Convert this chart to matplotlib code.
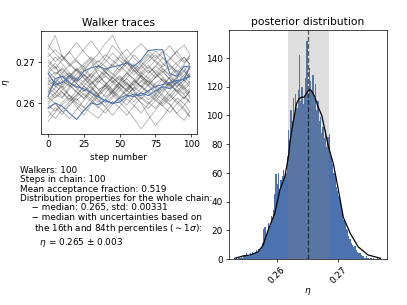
import numpy as np
import matplotlib
matplotlib.use("Agg")
from matplotlib import pyplot as plt

# ------------------------------------------------------------
# walker traces (eta in units of 1e-4), sampled every 5 steps
steps = [0, 5, 10, 15, 20, 25, 30, 35, 40, 45, 50,
         55, 60, 65, 70, 75, 80, 85, 90, 95, 99]

grey_traces = [
    [2672, 2690, 2655, 2640, 2661, 2684, 2702, 2670, 2648, 2633, 2650, 2668, 2691, 2675, 2660, 2644, 2629, 2651, 2670, 2688, 2664],
    [2610, 2625, 2641, 2618, 2600, 2589, 2612, 2630, 2645, 2627, 2606, 2620, 2638, 2655, 2641, 2622, 2609, 2631, 2650, 2637, 2618],
    [2731, 2765, 2712, 2690, 2705, 2680, 2662, 2688, 2710, 2741, 2722, 2698, 2675, 2691, 2716, 2700, 2683, 2666, 2690, 2712, 2695],
    [2648, 2631, 2615, 2640, 2662, 2651, 2670, 2692, 2677, 2655, 2638, 2620, 2603, 2625, 2644, 2662, 2679, 2658, 2640, 2622, 2635],
    [2585, 2600, 2578, 2593, 2615, 2632, 2618, 2601, 2624, 2645, 2660, 2641, 2619, 2600, 2571, 2545, 2566, 2590, 2612, 2598, 2580],
    [2700, 2683, 2707, 2725, 2701, 2688, 2665, 2650, 2672, 2697, 2715, 2731, 2710, 2692, 2673, 2690, 2711, 2695, 2676, 2660, 2684],
    [2625, 2650, 2667, 2644, 2628, 2612, 2633, 2655, 2641, 2622, 2640, 2661, 2680, 2664, 2645, 2627, 2641, 2662, 2681, 2666, 2649],
    [2660, 2642, 2626, 2609, 2631, 2650, 2636, 2620, 2600, 2617, 2638, 2652, 2631, 2612, 2597, 2613, 2634, 2650, 2627, 2610, 2630],
    [2555, 2578, 2596, 2612, 2590, 2571, 2595, 2618, 2637, 2620, 2602, 2584, 2562, 2537, 2560, 2583, 2604, 2622, 2605, 2588, 2568],
    [2690, 2712, 2695, 2672, 2655, 2678, 2701, 2720, 2745, 2765, 2731, 2706, 2688, 2667, 2650, 2671, 2693, 2708, 2726, 2702, 2715],
    [2640, 2622, 2648, 2667, 2685, 2670, 2652, 2634, 2615, 2630, 2652, 2673, 2659, 2640, 2622, 2606, 2625, 2646, 2663, 2681, 2658],
    [2598, 2615, 2632, 2650, 2637, 2620, 2605, 2588, 2610, 2628, 2612, 2595, 2617, 2636, 2655, 2640, 2620, 2604, 2622, 2640, 2625],
    [2705, 2688, 2670, 2652, 2671, 2690, 2709, 2693, 2676, 2659, 2677, 2695, 2718, 2700, 2684, 2705, 2722, 2740, 2716, 2698, 2710],
    [2632, 2650, 2635, 2617, 2596, 2580, 2601, 2622, 2644, 2662, 2646, 2630, 2650, 2668, 2652, 2635, 2615, 2598, 2575, 2594, 2612],
    [2668, 2651, 2674, 2693, 2678, 2660, 2643, 2662, 2684, 2669, 2691, 2675, 2656, 2640, 2661, 2680, 2664, 2646, 2627, 2649, 2670],
    [2615, 2598, 2580, 2562, 2585, 2606, 2627, 2610, 2592, 2613, 2630, 2648, 2627, 2609, 2631, 2617, 2598, 2619, 2640, 2656, 2640],
    [2742, 2720, 2703, 2726, 2748, 2725, 2706, 2683, 2700, 2722, 2704, 2687, 2668, 2689, 2708, 2727, 2710, 2692, 2675, 2694, 2716],
    [2650, 2668, 2686, 2665, 2647, 2629, 2648, 2667, 2650, 2632, 2615, 2636, 2655, 2675, 2693, 2672, 2654, 2636, 2655, 2633, 2647],
    [2580, 2562, 2585, 2603, 2620, 2641, 2625, 2607, 2590, 2570, 2592, 2611, 2594, 2576, 2598, 2620, 2639, 2618, 2600, 2583, 2566],
    [2678, 2660, 2644, 2665, 2683, 2662, 2640, 2622, 2643, 2664, 2682, 2700, 2680, 2661, 2643, 2664, 2685, 2668, 2650, 2668, 2685],
    [2645, 2652, 2638, 2661, 2649, 2670, 2655, 2633, 2641, 2628, 2647, 2659, 2642, 2666, 2651, 2637, 2658, 2645, 2662, 2640, 2653],
    [2690, 2671, 2683, 2665, 2652, 2668, 2647, 2661, 2679, 2694, 2680, 2702, 2686, 2670, 2688, 2673, 2655, 2641, 2660, 2677, 2662],
    [2603, 2621, 2612, 2635, 2648, 2629, 2640, 2618, 2605, 2627, 2646, 2633, 2654, 2640, 2626, 2648, 2661, 2643, 2630, 2612, 2628],
    [2722, 2701, 2716, 2694, 2710, 2731, 2752, 2728, 2705, 2690, 2712, 2698, 2681, 2700, 2720, 2703, 2688, 2706, 2727, 2741, 2720],
    [2566, 2589, 2572, 2598, 2611, 2590, 2576, 2563, 2585, 2604, 2589, 2570, 2593, 2615, 2602, 2587, 2609, 2596, 2574, 2558, 2579],
    [2655, 2640, 2661, 2674, 2658, 2642, 2660, 2681, 2667, 2650, 2664, 2645, 2633, 2652, 2671, 2690, 2676, 2659, 2641, 2656, 2673],
    [2630, 2612, 2627, 2604, 2620, 2641, 2628, 2649, 2666, 2651, 2634, 2617, 2639, 2625, 2608, 2623, 2645, 2663, 2647, 2631, 2614],
    [2680, 2697, 2676, 2660, 2681, 2666, 2688, 2703, 2689, 2672, 2655, 2674, 2696, 2683, 2701, 2718, 2697, 2681, 2699, 2712, 2694],
    [2620, 2637, 2654, 2643, 2626, 2611, 2630, 2616, 2635, 2652, 2667, 2649, 2630, 2644, 2627, 2610, 2593, 2612, 2634, 2620, 2603],
    [2660, 2676, 2664, 2648, 2637, 2655, 2672, 2657, 2675, 2663, 2646, 2629, 2647, 2666, 2681, 2662, 2675, 2690, 2670, 2654, 2667],
    [2595, 2580, 2602, 2620, 2606, 2624, 2610, 2591, 2575, 2597, 2614, 2631, 2618, 2601, 2587, 2606, 2593, 2577, 2598, 2615, 2601],
    [2713, 2730, 2714, 2697, 2679, 2696, 2712, 2699, 2718, 2704, 2689, 2709, 2728, 2745, 2727, 2710, 2726, 2711, 2694, 2677, 2697],
]

blue_traces = [
    [2673, 2645, 2650, 2668, 2655, 2678, 2686, 2690, 2683, 2688, 2692, 2698, 2690, 2705, 2728, 2730, 2730, 2672, 2665, 2690, 2688],
    [2588, 2600, 2592, 2575, 2560, 2582, 2600, 2596, 2608, 2598, 2612, 2620, 2615, 2625, 2618, 2630, 2640, 2635, 2650, 2660, 2665],
    [2616, 2660, 2665, 2650, 2640, 2635, 2625, 2615, 2605, 2600, 2602, 2615, 2622, 2618, 2630, 2640, 2645, 2650, 2655, 2658, 2690],
]

# ------------------------------------------------------------
# posterior histogram: bin edges start / width and counts
bin_start = 0.2534
bin_width = 0.0002
counts = [1, 0, 1, 1, 2, 1, 3, 2, 4, 3, 2, 4, 3, 5, 4, 4, 6, 5, 7, 6,
          8, 11, 21, 22, 17, 19, 25, 23, 30, 27, 34, 45, 59, 52, 60, 49, 55, 58, 62, 56,
          60, 72, 90, 83, 104, 96, 112, 100, 115, 105, 118, 142, 110, 120, 108, 114, 126, 152, 115, 133,
          124, 118, 128, 112, 122, 104, 110, 96, 99, 88, 92, 84, 90, 78, 85, 87, 72, 70, 66, 60,
          57, 50, 47, 44, 40, 35, 33, 27, 25, 21, 20, 16, 14, 11, 10, 8, 9, 6, 5, 4,
          4, 3, 2, 2, 1, 2, 1, 1, 0, 1, 0, 1, 0, 0, 1, 0, 1]

# smooth density curve (eta, count)
kde_x = [0.2532, 0.2545, 0.2557, 0.2570, 0.2578, 0.2586, 0.2597, 0.2605, 0.2613,
         0.2619, 0.2622, 0.2627, 0.2632, 0.2636, 0.2640, 0.2645, 0.2649, 0.2654,
         0.2658, 0.2662, 0.2667, 0.2673, 0.2681, 0.2684, 0.2692, 0.2700, 0.2708,
         0.2719, 0.2732, 0.2748, 0.2768]
kde_y = [0.5, 2.0, 2.8, 5.0, 9.7, 20, 32, 48, 57,
         71, 83, 96, 108, 111.5, 112.6, 112.8, 116, 118,
         116, 112.6, 106, 100, 84, 78, 66, 48, 29,
         18, 8.5, 2.8, 0.5]

median = 0.265
lo_16, hi_84 = 0.2618, 0.2685

info = ("Walkers: 100\n"
        "Steps in chain: 100\n"
        "Mean acceptance fraction: 0.519\n"
        "Distribution properties for the whole chain:\n"
        "    \u2212 median: 0.265, std: 0.00331\n"
        "    \u2212 median with uncertainties based on\n"
        "     the 16th and 84th percentiles ($\\sim$1$\\sigma$):\n"
        "       $\\eta$ = 0.265 $\\pm$ 0.003")

blue = '#4c72b0'

fig = plt.figure(figsize=(6.4, 4.8), dpi=63.6)

# ------------------------------------------------------------
# left: walker traces
ax1 = fig.add_axes([0.1007, 0.5607, 0.383, 0.3373])
for tr in grey_traces:
    ax1.plot(steps, np.array(tr) * 1e-4, color='k', alpha=0.33, lw=0.9)
for tr in blue_traces:
    ax1.plot(steps, np.array(tr) * 1e-4, color=blue, lw=1.2)
ax1.set_ylim(0.2525, 0.2776)
ax1.set_xticks([0, 25, 50, 75, 100])
ax1.set_yticks([0.26, 0.27])
ax1.set_xlabel('step number')
ax1.set_ylabel(r'$\eta$')
ax1.set_title('Walker traces', fontsize=12)

fig.text(0.049, 0.457, info, fontsize=10, va='top', ha='left',
         linespacing=1.06)

# ------------------------------------------------------------
# right: posterior distribution
ax2 = fig.add_axes([0.5627, 0.1508, 0.3882, 0.7508])
edges = bin_start + bin_width * np.arange(len(counts) + 1)
centers = 0.5 * (edges[:-1] + edges[1:])
ax2.hist(centers, bins=edges, weights=counts, color=blue)
ax2.plot(kde_x, kde_y, color='k', lw=1.4)
ax2.axvspan(lo_16, hi_84, color='gray', alpha=0.25, lw=0)
ax2.axvline(median, color='k', ls='--', lw=1.5, alpha=0.6)
ax2.set_xlim(0.25227, 0.27789)
ax2.set_xticks([0.26, 0.27])
ax2.set_xticklabels(['0.26', '0.27'], rotation=45)
ax2.set_xlabel(r'$\eta$', labelpad=0)
ax2.set_title('posterior distribution', fontsize=12)

fig.savefig('out.png', dpi=63.6)
